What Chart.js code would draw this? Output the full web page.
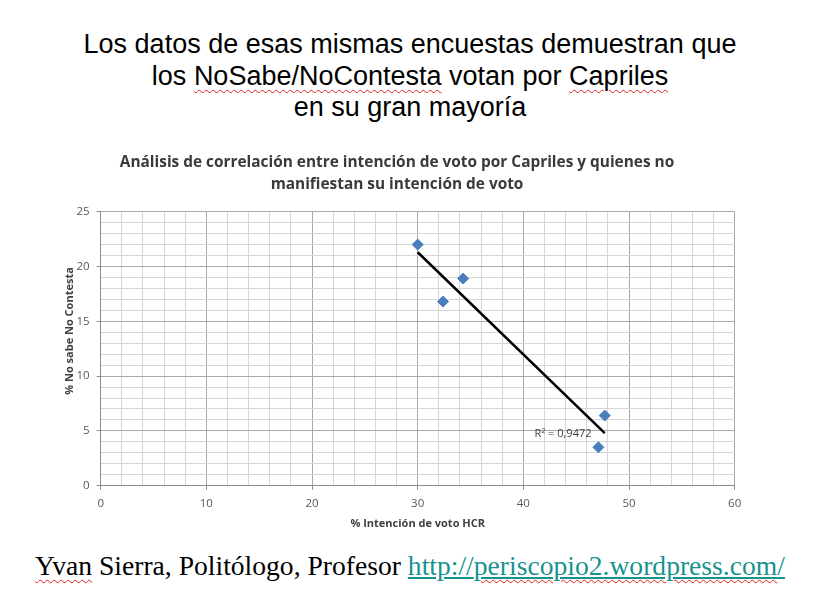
<!DOCTYPE html>
<html>
<head>
<meta charset="utf-8">
<script src="https://cdn.jsdelivr.net/npm/chart.js@4.4.1/dist/chart.umd.min.js"></script>
<style>
  html, body { margin: 0; padding: 0; background: #fff; }
  body { width: 820px; height: 614px; position: relative; overflow: hidden; }
  .head {
    position: absolute; left: 0; width: 820px; text-align: center;
    font-family: "Liberation Sans", Arial, sans-serif; font-size: 27px; color: #000;
    line-height: 31.5px; top: 29px;
  }
  .spell { text-decoration: underline wavy #d22; text-decoration-thickness: 1px; text-underline-offset: 4px; }
  .foot {
    position: absolute; left: 0; width: 820px; text-align: center; top: 550px;
    font-family: "Liberation Serif", "Times New Roman", serif; font-size: 27.6px; color: #000;
  }
  .foot a { color: #17938e; text-decoration: underline; text-decoration-color: #17938e; }
  #wrap { position: absolute; left: 0; top: 140px; width: 820px; height: 400px; }
</style>
</head>
<body>
<div class="head">
  Los datos de esas mismas encuestas demuestran que<br>
  los <span class="spell">NoSabe/NoContesta</span> votan por <span class="spell">Capriles</span><br>
  en su gran mayoría
</div>
<div id="wrap"><canvas id="chart"></canvas></div>
<div class="foot"><span class="spell">Yvan</span> Sierra, Politólogo, Profesor <a href="#">http://<span class="spell">periscopio2.wordpress.com</span>/</a></div>

<script>
// survey points
const votoHCR = [30.0, 32.4, 34.3, 47.7, 47.1];
const noSabe = [22.0, 16.8, 18.9, 6.4, 3.5];

// linear trendline ends as drawn in the picture
const trendX = [30.0, 47.7];
const trendY = [21.3, 4.8];
const r2Label = 'R² = 0,9472';

const chartTitle = [
    'Análisis de correlación entre intención de voto por Capriles y quienes no',
    'manifiestan su intención de voto'
];
const xTitle = '% Intención de voto HCR';
const yTitle = '% No sabe No Contesta';

const tickFont = { family: '"Open Sans", sans-serif', size: 11.5 };
const gridColor = (major) => (ctx) => (ctx.tick && ctx.tick.value % major === 0) ? '#a9a9a9' : '#d6d6d6';
const tickMark = (major) => (ctx) => (ctx.tick && ctx.tick.value % major === 0) ? '#8c8c8c' : 'rgba(0,0,0,0)';

// draws the rotated y title and the R² note
const extras = {
    id: 'extras',
    afterDraw(chart) {
        const ctx = chart.ctx;
        const x = chart.scales.x, y = chart.scales.y;
        ctx.save();
        ctx.fillStyle = '#404040';
        ctx.font = 'bold 11px "Open Sans", sans-serif';
        ctx.textAlign = 'center';
        ctx.textBaseline = 'middle';
        ctx.translate(70, 191);
        ctx.rotate(-Math.PI / 2);
        ctx.fillText(yTitle, 0, 0);
        ctx.restore();

        ctx.save();
        ctx.fillStyle = '#404040';
        ctx.font = '11px "Open Sans", sans-serif';
        ctx.textAlign = 'right';
        ctx.textBaseline = 'middle';
        ctx.fillText(r2Label, x.getPixelForValue(46.45), y.getPixelForValue(4.7));
        ctx.restore();
    }
};

new Chart(document.getElementById('chart'), {
    type: 'scatter',
    data: {
        datasets: [{
            data: votoHCR.map((v, i) => ({ x: v, y: noSabe[i] })),
            pointStyle: 'rectRot',
            pointRadius: 5.5,
            pointHoverRadius: 5.5,
            backgroundColor: '#4a7ebb',
            borderColor: '#4a7ebb',
            borderWidth: 1,
            order: 1
        }, {
            type: 'line',
            data: trendX.map((v, i) => ({ x: v, y: trendY[i] })),
            borderColor: '#000',
            borderWidth: 2.5,
            pointRadius: 0,
            fill: false,
            order: 2
        }]
    },
    options: {
        responsive: true,
        maintainAspectRatio: false,
        animation: false,
        layout: { padding: { left: 59.3, right: 85.3, top: 0, bottom: 0 } },
        plugins: {
            legend: { display: false },
            tooltip: { enabled: false },
            title: {
                display: true,
                text: chartTitle,
                color: '#3a3a3a',
                font: { family: '"Open Sans", sans-serif', size: 15.4, weight: 'bold', lineHeight: 22 / 15.4 },
                padding: { top: 12, bottom: 15.7 }
            }
        },
        scales: {
            x: {
                type: 'linear',
                min: 0, max: 60,
                afterFit: (s) => { s.height = 54.3; },
                ticks: {
                    stepSize: 2, autoSkip: false, maxRotation: 0, maxTicksLimit: 100,
                    padding: 6.7, color: '#595959', font: tickFont,
                    callback: (v) => v % 10 === 0 ? v : ''
                },
                grid: { color: gridColor(10), tickColor: tickMark(10), tickLength: 4 },
                border: { color: '#8c8c8c' },
                title: {
                    display: true, text: xTitle, color: '#404040',
                    font: { family: '"Open Sans", sans-serif', size: 11, weight: 'bold', lineHeight: 1.2 },
                    padding: { top: 0, bottom: 9.4 }
                }
            },
            y: {
                type: 'linear',
                min: 0, max: 25,
                afterFit: (s) => { s.width = 41.4; },
                ticks: {
                    stepSize: 1, autoSkip: false, maxTicksLimit: 100,
                    padding: 7, color: '#595959', font: tickFont,
                    callback: (v) => v % 5 === 0 ? v : ''
                },
                grid: { color: gridColor(5), tickColor: tickMark(5), tickLength: 4 },
                border: { color: '#8c8c8c' }
            }
        }
    },
    plugins: [extras]
});
</script>
</body>
</html>
